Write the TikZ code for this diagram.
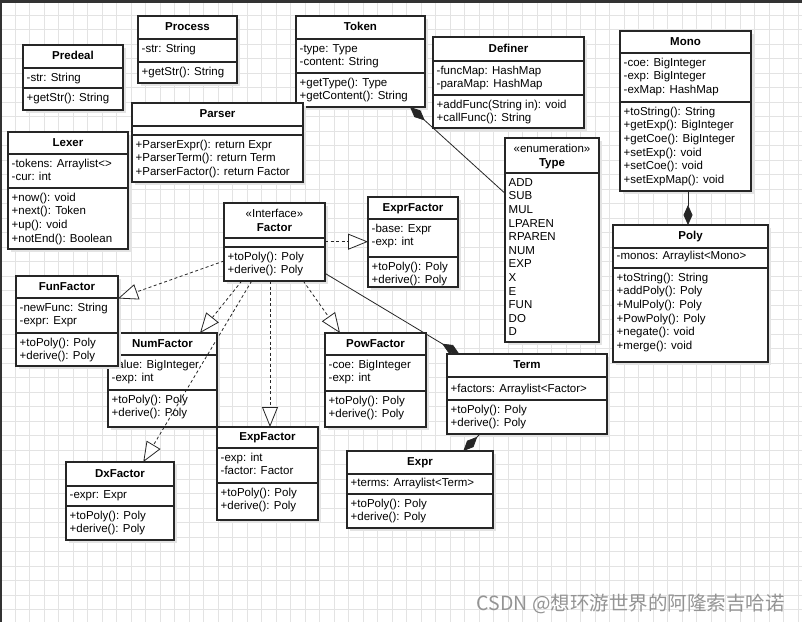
\documentclass[tikz,border=0pt]{standalone}
\usepackage{fontspec}
\setmainfont{Liberation Sans}
\newfontfamily\cjk{Noto Sans CJK SC}
\usetikzlibrary{arrows.meta,calc,fit}
\tikzset{
  x=1pt, y=-1pt,
  cls/.style={draw=black!85, line width=1.2pt, fill=white, inner sep=0pt, outer sep=0pt},
  shd/.style={fill=black!11},
  ttl/.style={font=\fontsize{11.5}{13.6}\selectfont\bfseries, text height=8.5pt, text depth=2.5pt, inner sep=0pt, anchor=center},
  stl/.style={font=\fontsize{11.5}{13.6}\selectfont, inner sep=0pt, anchor=base},
  txt/.style={font=\fontsize{11.5}{13.6}\selectfont, inner sep=0pt, anchor=base west},
  sepl/.style={draw=black!85, line width=1.2pt},
  gridl/.style={draw=black!11, line width=0.7pt},
  real/.style={draw=black!85, line width=0.8pt, dash pattern=on 3pt off 2.5pt, -{Triangle[open, length=20pt, width=16pt, fill=white]}},
  comp/.style={draw=black!85, line width=0.8pt, {Diamond[length=20pt, width=9pt, fill=black!85]}-},
}
% #1 id, #2 (x1,y1), #3 (x2,y2), #4 header bottom y, #5 title
\newcommand\clsbox[5]{%
  \fill[shd] ($#2+(3,3)$) rectangle ($#3+(3,3)$);
  \node[cls, fit={#2 #3}] (#1) {};
  \node[ttl] (#1-t) at ($(#1.north)!0.5!(#1.north|-0,#4)$) {#5};
  \draw[sepl] (#1.west|-0,#4) -- (#1.east|-0,#4);
}
% stereotype box: #1 id, #2 (x1,y1), #3 (x2,y2), #4 header bottom y, #5 stereotype, #6 title
\newcommand\stbox[6]{%
  \fill[shd] ($#2+(3,3)$) rectangle ($#3+(3,3)$);
  \node[cls, fit={#2 #3}] (#1) {};
  \path (#1.north) ++(0,14) node[stl] (#1-s) {#5};
  \path (#1.north) ++(0,28) node[stl, font=\fontsize{11.5}{13.6}\selectfont\bfseries] (#1-t) {#6};
  \draw[sepl] (#1.west|-0,#4) -- (#1.east|-0,#4);
}
\newcommand\sepline[2]{\draw[sepl] (#1.west|-0,#2) -- (#1.east|-0,#2);}
% #1 id, #2 top y, #3 prefix, #4 list
\newcommand\items[4]{%
  \foreach \itm [count=\ii] in {#4}{%
    \path (#1.west|-0,#2) ++(3.5,{13.3+13.6*(\ii-1)}) node[txt] (#1-#3\ii) {\itm};}%
}
\begin{document}
\begin{tikzpicture}
\useasboundingbox (0,0) rectangle (802,622);
\fill[white] (0,0) rectangle (802,622);
\foreach \gx in {0.5,15,...,802} \draw[gridl] (\gx,0) -- (\gx,622);
\foreach \gy in {0.5,15,...,622} \draw[gridl] (0,\gy) -- (802,\gy);
\fill[black!80] (0,0) rectangle (802,3);
\fill[black!80] (0,0) rectangle (1.5,622);

% Predeal
\clsbox{predeal}{(23,45)}{(123,110)}{68}{Predeal}
\items{predeal}{68}{a}{-str: String}
\sepline{predeal}{88}
\items{predeal}{88}{m}{+getStr(): String}

% Process
\clsbox{process}{(138,16)}{(237,83)}{39}{Process}
\items{process}{39}{a}{-str: String}
\sepline{process}{62}
\items{process}{62}{m}{+getStr(): String}

% Token
\clsbox{token}{(296,16)}{(425,107)}{39}{Token}
\items{token}{39}{a}{-type: Type,-content: String}
\sepline{token}{73}
\items{token}{73}{m}{+getType(): Type,+getContent(): String}

% Definer
\clsbox{definer}{(433,37)}{(584,128)}{61}{Definer}
\items{definer}{61}{a}{-funcMap: HashMap,-paraMap: HashMap}
\sepline{definer}{95}
\items{definer}{95}{m}{+addFunc(String in): void,+callFunc(): String}

% Mono
\clsbox{mono}{(620,31)}{(751,191)}{53}{Mono}
\items{mono}{53}{a}{-coe: BigInteger,-exp: BigInteger,-exMap: HashMap}
\sepline{mono}{102}
\items{mono}{102}{m}{+toString(): String,+getExp(): BigInteger,+getCoe(): BigInteger,+setExp(): void,+setCoe(): void,+setExpMap(): void}

% Parser
\clsbox{parser}{(132,103)}{(303,182)}{126}{Parser}
\sepline{parser}{135}
\items{parser}{135}{m}{+ParserExpr(): return Expr,+ParserTerm(): return Term,+ParserFactor(): return Factor}

% Lexer
\clsbox{lexer}{(8,132)}{(128,249)}{154}{Lexer}
\items{lexer}{154}{a}{-tokens: Arraylist<>,-cur: int}
\sepline{lexer}{188}
\items{lexer}{188}{m}{+now(): void,+next(): Token,+up(): void,+notEnd(): Boolean}

% Type
\stbox{type}{(505,138)}{(599,342)}{173}{«enumeration»}{Type}
\items{type}{173}{a}{ADD,SUB,MUL,LPAREN,RPAREN,NUM,EXP,X,E,FUN,DO,D}

% Factor
\stbox{factor}{(224,203)}{(325,281)}{238}{«Interface»}{Factor}
\sepline{factor}{247}
\items{factor}{247}{m}{+toPoly(): Poly,+derive(): Poly}

% ExprFactor
\clsbox{exprfactor}{(368,197)}{(458,287)}{219}{ExprFactor}
\items{exprfactor}{219}{a}{-base: Expr,-exp: int}
\sepline{exprfactor}{257}
\items{exprfactor}{257}{m}{+toPoly(): Poly,+derive(): Poly}

% Poly
\clsbox{poly}{(613,225)}{(768,362)}{248}{Poly}
\items{poly}{246}{a}{-monos: Arraylist<Mono>}
\sepline{poly}{268}
\items{poly}{268}{m}{+toString(): String,+addPoly(): Poly,+MulPoly(): Poly,+PowPoly(): Poly,+negate(): void,+merge(): void}

% NumFactor
\clsbox{numfactor}{(108,333)}{(217,427)}{355}{NumFactor}
\items{numfactor}{355}{a}{value: BigInteger,-exp: int}
\sepline{numfactor}{390}
\items{numfactor}{390}{m}{+toPoly(): Poly,+derive(): Poly}

% FunFactor
\clsbox{funfactor}{(16,276)}{(118,366)}{298}{FunFactor}
\items{funfactor}{298}{a}{-newFunc: String,-expr: Expr}
\sepline{funfactor}{333}
\items{funfactor}{333}{m}{+toPoly(): Poly,+derive(): Poly}

% PowFactor
\clsbox{powfactor}{(325,333)}{(426,427)}{355}{PowFactor}
\items{powfactor}{355}{a}{-coe: BigInteger,-exp: int}
\sepline{powfactor}{391}
\items{powfactor}{391}{m}{+toPoly(): Poly,+derive(): Poly}

% Term
\clsbox{term}{(447,354)}{(607,434)}{377}{Term}
\items{term}{379}{a}{+factors: Arraylist<Factor>}
\sepline{term}{400}
\items{term}{400}{m}{+toPoly(): Poly,+derive(): Poly}

% Expr
\clsbox{expr}{(347,451)}{(493,528)}{474}{Expr}
\items{expr}{473}{a}{+terms: Arraylist<Term>}
\sepline{expr}{494}
\items{expr}{494}{m}{+toPoly(): Poly,+derive(): Poly}

% DxFactor
\clsbox{dxfactor}{(66,462)}{(174,540)}{486}{DxFactor}
\items{dxfactor}{485}{a}{-expr: Expr}
\sepline{dxfactor}{506}
\items{dxfactor}{506}{m}{+toPoly(): Poly,+derive(): Poly}

% ExpFactor
\clsbox{expfactor}{(217,427)}{(318,520)}{448}{ExpFactor}
\items{expfactor}{448}{a}{-exp: int,-factor: Factor}
\sepline{expfactor}{483}
\items{expfactor}{483}{m}{+toPoly(): Poly,+derive(): Poly}

% connectors
\draw[real] (factor.east|-0,241.7) -- (exprfactor.west|-0,241.7);
\draw[real] (factor.west|-0,261) -- (funfactor.east|-0,298.5);
\draw[real] (factor.south-|241.7,0) -- (numfactor.north-|200,0);
\draw[real] (factor.south-|251.7,0) -- (dxfactor.north-|143.3,0);
\draw[real] (factor.south-|270,0) -- (expfactor.north-|270,0);
\draw[real] (factor.south-|303.3,0) -- (powfactor.north-|340,0);
\draw[comp] (term.north-|459.3,0) -- (factor.east|-0,273.3);
\draw[comp] (token.south-|410,0) -- (type.west|-0,193.3);
\draw[comp] (poly.north-|688,0) -- (mono.south-|688,0);
\draw[comp] (expr.north-|463.3,0) -- (term.south-|480,0);

\node[anchor=base east, text=black!42, font=\cjk\fontsize{19.5}{20}\selectfont, inner sep=0pt] (wm) at (785,610) {CSDN @想环游世界的阿隆索吉哈诺};
\end{tikzpicture}
\end{document}
